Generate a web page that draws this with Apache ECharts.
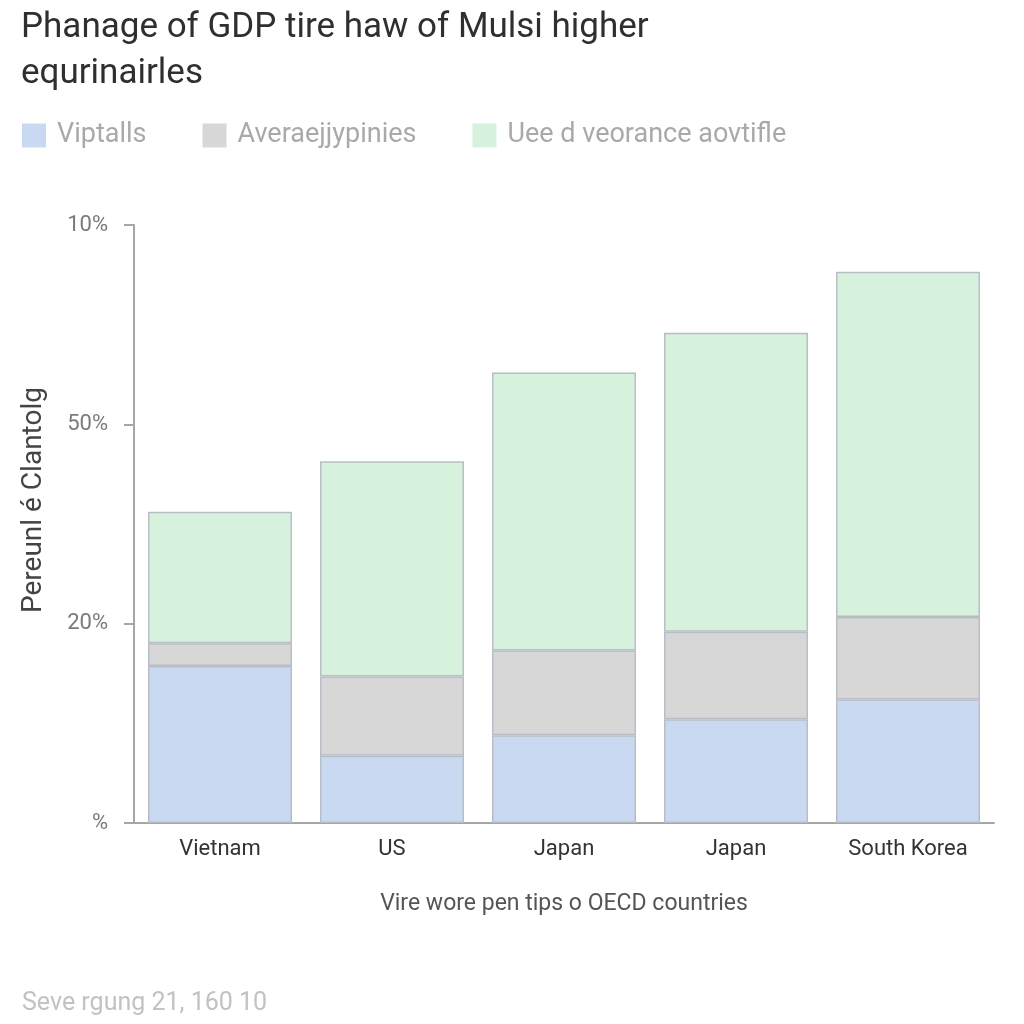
<!DOCTYPE html>
<html><head><meta charset="utf-8">
<script src="https://cdn.jsdelivr.net/npm/echarts@6/dist/echarts.min.js"></script>
<style>html,body{margin:0;padding:0;background:#fff}#c{width:1024px;height:1024px}</style>
</head><body><div id="c"></div>
<script>
var categories = ["Vietnam", "US", "Japan", "Japan", "South Korea"];
var seriesNames = ["Viptalls", "Averaejjypinies", "Uee d veorance aovtifle"];
var blueValues = [7.87, 3.37, 4.4, 5.2, 6.2];
var grayValues = [1.15, 3.98, 4.25, 4.4, 4.13];
var greenValues = [6.6, 10.8, 13.95, 15.0, 17.32];
var yTickLabels = ["%", "20%", "50%", "10%"];
var titleText = "Phanage of GDP tire haw of Mulsi higher\nequrinairles";
var yAxisName = "Pereunl é Clantolg";
var xAxisName = "Vire wore pen tips o OECD countries";
var footerText = "Seve rgung 21, 160 10";

var colors = ["#c9d9f2", "#d7d7d7", "#d6f1dc"];
var font = "Roboto, 'Noto Sans', sans-serif";
var chart = echarts.init(document.getElementById('c'));
function mk(name, data, color) {
  return {
    name: name, type: 'bar', stack: 'total', data: data, barWidth: 144,
    itemStyle: { color: color, borderColor: '#b9bec6', borderWidth: 1.5 }
  };
}
chart.setOption({
  backgroundColor: '#ffffff',
  textStyle: { fontFamily: font },
  title: [
    { text: titleText, left: 16, top: 0,
      textStyle: { fontSize: 35, fontWeight: 'normal', color: '#2f2f2f', lineHeight: 46, fontFamily: font } },
    { text: footerText, left: 17, top: 986,
      textStyle: { fontSize: 25, fontWeight: 'normal', color: '#c2c2c2', fontFamily: font } }
  ],
  legend: {
    left: 17, top: 117, itemWidth: 24, itemHeight: 24, itemGap: 56,
    icon: 'rect',
    itemStyle: { borderWidth: 0 },
    textStyle: { fontSize: 27, color: '#a9a9a9', fontFamily: font, padding: [0, 0, 0, 6] },
    data: seriesNames
  },
  grid: { left: 134, right: 30, top: 225, bottom: 201, containLabel: false },
  xAxis: {
    type: 'category', data: categories,
    name: xAxisName, nameLocation: 'middle', nameGap: 70,
    nameTextStyle: { fontSize: 23, color: '#555', fontFamily: font },
    axisLine: { lineStyle: { color: '#a6a6a6', width: 2 } },
    axisTick: { show: false },
    axisLabel: { fontSize: 22, color: '#333', margin: 15, interval: 0 }
  },
  yAxis: {
    type: 'value', min: 0, max: 30, interval: 10,
    name: yAxisName, nameLocation: 'middle', nameGap: 86, nameRotate: 90,
    nameTextStyle: { fontSize: 28, color: '#444', fontFamily: font, padding: [0, 0, 0, 48] },
    axisLine: { show: true, lineStyle: { color: '#a6a6a6', width: 2 } },
    axisTick: { show: true, length: 10, lineStyle: { color: '#a6a6a6', width: 2 } },
    splitLine: { show: false },
    axisLabel: { fontSize: 22, color: '#7a7a7a', margin: 26,
      formatter: function (v) { return yTickLabels[Math.round(v / 10)]; } }
  },
  series: [
    mk(seriesNames[0], blueValues, colors[0]),
    mk(seriesNames[1], grayValues, colors[1]),
    mk(seriesNames[2], greenValues, colors[2])
  ]
});
</script></body></html>
